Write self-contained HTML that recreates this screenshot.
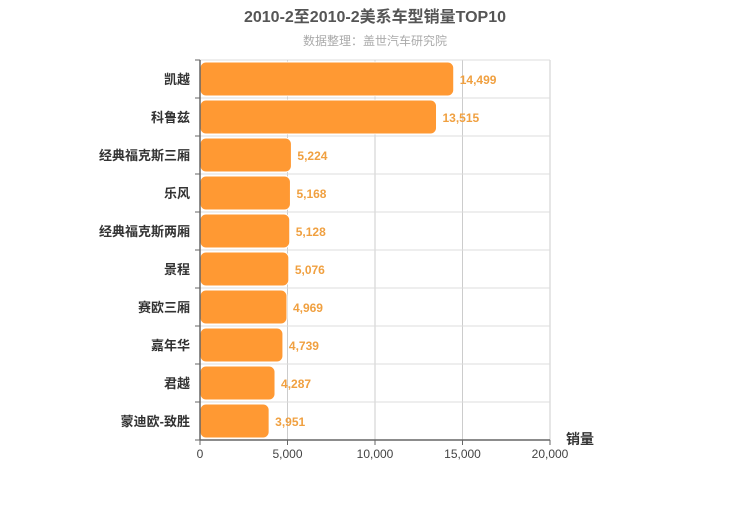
<!DOCTYPE html>
<html><head><meta charset="utf-8"><style>
body{margin:0;background:#fff;}
svg text{font-family:"Liberation Sans","Noto Sans CJK SC",sans-serif;}
</style></head><body>
<svg id="c" width="750" height="500">
<text x="375" y="22" text-anchor="middle" font-size="16" font-weight="bold" fill="#555">2010-2至2010-2美系车型销量TOP10</text>
<text x="375" y="45" text-anchor="middle" font-size="12" fill="#aaa">数据整理：盖世汽车研究院</text>
<g id="grid"></g><g id="bars"></g><g id="axes"></g>
<text x="580" y="444" text-anchor="middle" font-size="14" font-weight="bold" fill="#333">销量</text>
</svg>
<script>
const categories=["凯越","科鲁兹","经典福克斯三厢","乐风","经典福克斯两厢","景程","赛欧三厢","嘉年华","君越","蒙迪欧-致胜"];
const sales=[14499,13515,5224,5168,5128,5076,4969,4739,4287,3951];
const xTicks=[0,5000,10000,15000,20000];
const xTickLabels=["0","5,000","10,000","15,000","20,000"];
const NS="http://www.w3.org/2000/svg";
const L=200,R=550,T=60,B=440,xMax=20000;
const x=v=>L+(v/xMax)*(R-L);
const rowH=(B-T)/categories.length;
const y=i=>T+i*rowH;
function mk(tag,attrs,parent){const e=document.createElementNS(NS,tag);for(const k in attrs)e.setAttribute(k,attrs[k]);document.getElementById(parent).appendChild(e);return e;}
xTicks.forEach((t,i)=>{
  if(i>0){const g=mk("line",{x1:x(t),x2:x(t),y1:T,y2:B,stroke:"#ccc"},"grid");
  
  }
  const tk=mk("line",{x1:x(t),x2:x(t),y1:B,y2:B+5,stroke:"#666"},"axes");
  
  
  const lb=mk("text",{x:x(t),y:B+18,"text-anchor":"middle","font-size":"12",fill:"#444"},"axes");
  lb.textContent=xTickLabels[i];
  
  
});
for(let i=0;i<categories.length;i++){
  const g=mk("line",{x1:L,x2:R,y1:y(i),y2:y(i),stroke:"#ddd"},"grid");
  
  
}
categories.forEach((c,i)=>{
  const r=mk("rect",{x:L,y:y(i)+2,width:x(sales[i])-L,height:rowH-4,rx:6,fill:"#ff9933",stroke:"#fff","stroke-width":1},"bars");
  
  
  const v=mk("text",{x:x(sales[i])+6,y:y(i)+rowH/2+5,"font-size":"12",fill:"#f0a040","font-weight":"bold"},"bars");
  v.textContent=sales[i].toLocaleString("en-US");
  
  
  const cl=mk("text",{x:L-10,y:y(i)+rowH/2+5,"text-anchor":"end","font-size":"13","font-weight":"bold",fill:"#333"},"axes");
  cl.textContent=c;
  
  
  const tk=mk("line",{x1:L-5,x2:L,y1:y(i),y2:y(i),stroke:"#666"},"axes");
  
  
});
const tk2=mk("line",{x1:L-5,x2:L,y1:B,y2:B,stroke:"#666"},"axes");


const ya=mk("line",{x1:L,x2:L,y1:T,y2:B,stroke:"#666","stroke-width":1.5},"axes");


const xa=mk("line",{x1:L,x2:R,y1:B,y2:B,stroke:"#666","stroke-width":1.5},"axes");


</script>
</body></html>
